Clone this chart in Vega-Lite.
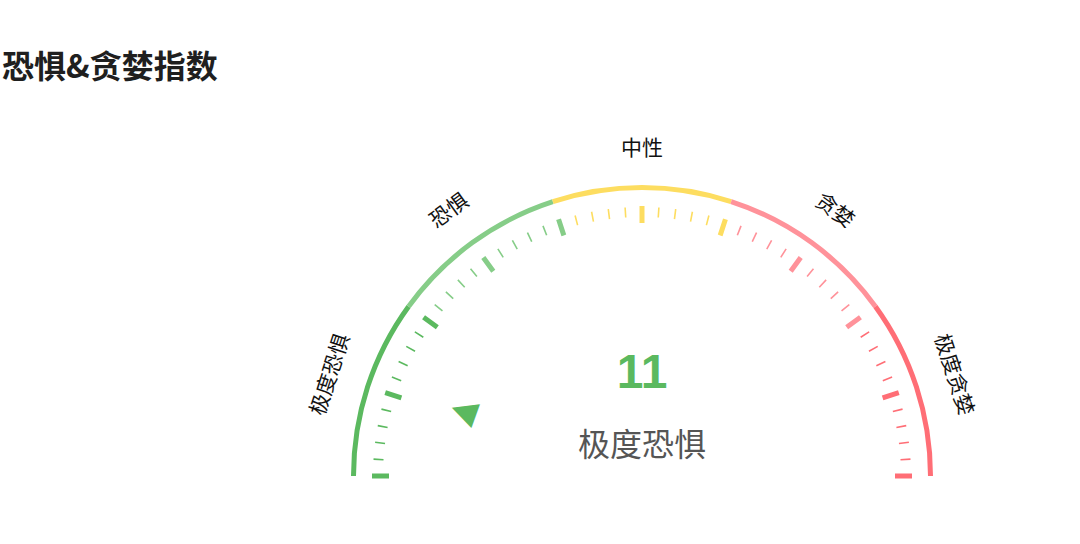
{
  "$schema": "https://vega.github.io/schema/vega-lite/v6.json",
  "width": 1080,
  "height": 444,
  "autosize": {"type": "none"},
  "padding": {"left": 0, "top": 100, "right": 0, "bottom": 0},
  "title": {
    "text": "恐惧&贪婪指数",
    "anchor": "start",
    "frame": "group",
    "offset": 20,
    "dx": 2,
    "dy": 5,
    "font": "Noto Sans CJK SC",
    "fontSize": 32,
    "fontWeight": "bold",
    "color": "#1f1f1f"
  },
  "config": {"view": {"stroke": null}, "font": "Noto Sans CJK SC"},
  "datasets": {
    "zones": [
      {"from": 0, "to": 20, "name": "极度恐惧"},
      {"from": 20, "to": 40, "name": "恐惧"},
      {"from": 40, "to": 60, "name": "中性"},
      {"from": 60, "to": 80, "name": "贪婪"},
      {"from": 80, "to": 100, "name": "极度贪婪"}
    ],
    "ticks": [
      {"v": 0}, {"v": 2}, {"v": 4}, {"v": 6}, {"v": 8},
      {"v": 10}, {"v": 12}, {"v": 14}, {"v": 16}, {"v": 18},
      {"v": 20}, {"v": 22}, {"v": 24}, {"v": 26}, {"v": 28},
      {"v": 30}, {"v": 32}, {"v": 34}, {"v": 36}, {"v": 38},
      {"v": 40}, {"v": 42}, {"v": 44}, {"v": 46}, {"v": 48},
      {"v": 50}, {"v": 52}, {"v": 54}, {"v": 56}, {"v": 58},
      {"v": 60}, {"v": 62}, {"v": 64}, {"v": 66}, {"v": 68},
      {"v": 70}, {"v": 72}, {"v": 74}, {"v": 76}, {"v": 78},
      {"v": 80}, {"v": 82}, {"v": 84}, {"v": 86}, {"v": 88},
      {"v": 90}, {"v": 92}, {"v": 94}, {"v": 96}, {"v": 98},
      {"v": 100}
    ],
    "reading": [{"value": 11, "level": "极度恐惧"}]
  },
  "encoding": {
    "x": {"datum": 0, "type": "quantitative", "scale": {"domain": [-642, 438]}, "axis": null},
    "y": {"datum": 0, "type": "quantitative", "scale": {"domain": [-68, 376]}, "axis": null}
  },
  "layer": [
    {
      "data": {"name": "zones"},
      "mark": {"type": "arc", "radius": 291, "radius2": 286},
      "encoding": {
        "theta": {"field": "from", "type": "quantitative", "stack": null,
                  "scale": {"domain": [0, 100], "range": [-1.5707963, 1.5707963]}},
        "theta2": {"field": "to"},
        "color": {"field": "to", "type": "quantitative", "legend": null,
                  "scale": {"type": "threshold", "domain": [21, 41, 61, 81],
                            "range": ["#5bb95f", "#86cd88", "#fddd60", "#ff929a", "#ff6e76"]}}
      }
    },
    {
      "data": {"name": "ticks"},
      "transform": [{"filter": "datum.v % 10 !== 0"}],
      "mark": {"type": "arc", "filled": false, "radius": 269, "radius2": 259, "strokeWidth": 1.6},
      "encoding": {
        "theta": {"field": "v", "type": "quantitative", "stack": null},
        "theta2": {"field": "v"},
        "color": {"field": "v", "type": "quantitative", "legend": null,
                  "scale": {"type": "threshold", "domain": [21, 41, 61, 81],
                            "range": ["#5bb95f", "#86cd88", "#fddd60", "#ff929a", "#ff6e76"]}}
      }
    },
    {
      "data": {"name": "ticks"},
      "transform": [{"filter": "datum.v % 10 === 0"}],
      "mark": {"type": "arc", "filled": false, "radius": 270, "radius2": 253, "strokeWidth": 5},
      "encoding": {
        "theta": {"field": "v", "type": "quantitative", "stack": null},
        "theta2": {"field": "v"},
        "color": {"field": "v", "type": "quantitative", "legend": null,
                  "scale": {"type": "threshold", "domain": [21, 41, 61, 81],
                            "range": ["#5bb95f", "#86cd88", "#fddd60", "#ff929a", "#ff6e76"]}}
      }
    },
    {
      "data": {"name": "zones"},
      "transform": [{"calculate": "(datum.from + datum.to) / 2", "as": "mid"}],
      "mark": {"type": "text", "radius": 327, "fontSize": 21, "align": "center", "baseline": "middle", "color": "#111111"},
      "encoding": {
        "theta": {"field": "mid", "type": "quantitative"},
        "angle": {"field": "mid", "type": "quantitative", "scale": {"domain": [0, 100], "range": [-90, 90]}},
        "text": {"field": "name"}
      }
    },
    {
      "data": {"name": "reading"},
      "mark": {"type": "text", "text": "▲", "radius": 191, "font": "DejaVu Sans", "fontSize": 33, "align": "center", "baseline": "middle"},
      "encoding": {
        "theta": {"field": "value", "type": "quantitative"},
        "angle": {"field": "value", "type": "quantitative"},
        "color": {"field": "value", "type": "quantitative", "legend": null,
                  "scale": {"type": "threshold", "domain": [21, 41, 61, 81],
                            "range": ["#5bb95f", "#86cd88", "#fddd60", "#ff929a", "#ff6e76"]}}
      }
    },
    {
      "data": {"name": "reading"},
      "mark": {"type": "text", "font": "Liberation Sans", "fontSize": 48, "fontWeight": "bold", "align": "center", "baseline": "alphabetic"},
      "encoding": {
        "y": {"datum": 88, "type": "quantitative"},
        "text": {"field": "value", "type": "quantitative"},
        "color": {"field": "value", "type": "quantitative", "legend": null,
                  "scale": {"type": "threshold", "domain": [21, 41, 61, 81],
                            "range": ["#5bb95f", "#86cd88", "#fddd60", "#ff929a", "#ff6e76"]}}
      }
    },
    {
      "data": {"name": "reading"},
      "mark": {"type": "text", "fontSize": 32, "align": "center", "baseline": "alphabetic", "color": "#555555"},
      "encoding": {
        "y": {"datum": 20, "type": "quantitative"},
        "text": {"field": "level"}
      }
    }
  ]
}
